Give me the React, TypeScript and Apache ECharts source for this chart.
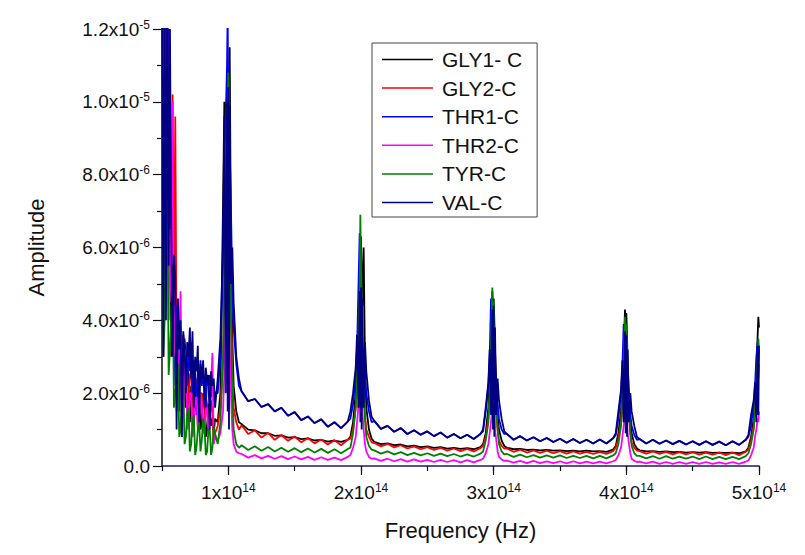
import React, { useEffect, useRef } from "react";
import * as echarts from "echarts";

// Frequency grid, in units of 1e14 Hz
const FREQ = [
  0.5, 0.51, 0.52, 0.53, 0.54, 0.55, 0.56, 0.57, 0.58, 0.59,
  0.6, 0.61, 0.62, 0.63, 0.64, 0.65, 0.66, 0.67, 0.68, 0.69,
  0.7, 0.71, 0.72, 0.73, 0.74, 0.75, 0.76, 0.77, 0.78, 0.79,
  0.8, 0.81, 0.82, 0.83, 0.84, 0.85, 0.86, 0.87, 0.88, 0.89, 0.9,
  0.92, 0.94, 0.96, 0.97, 0.98, 0.99, 0.995, 1.0, 1.005, 1.01, 1.02, 1.03, 1.04, 1.06, 1.08,
  1.1, 1.15, 1.2, 1.25, 1.3, 1.35, 1.4, 1.45, 1.5, 1.55, 1.6, 1.65, 1.7, 1.75, 1.8, 1.85, 1.9,
  1.92, 1.94, 1.96, 1.97, 1.98, 1.99, 1.995, 2.0, 2.005, 2.01, 2.02, 2.03, 2.04, 2.06, 2.08,
  2.1, 2.15, 2.2, 2.25, 2.3, 2.35, 2.4, 2.45, 2.5, 2.55, 2.6, 2.65, 2.7, 2.75, 2.8, 2.85, 2.9,
  2.92, 2.94, 2.96, 2.97, 2.98, 2.99, 2.995, 3.0, 3.005, 3.01, 3.02, 3.03, 3.04, 3.06, 3.08,
  3.1, 3.15, 3.2, 3.25, 3.3, 3.35, 3.4, 3.45, 3.5, 3.55, 3.6, 3.65, 3.7, 3.75, 3.8, 3.85, 3.9,
  3.92, 3.94, 3.96, 3.97, 3.98, 3.99, 3.995, 4.0, 4.005, 4.01, 4.02, 4.03, 4.04, 4.06, 4.08,
  4.1, 4.15, 4.2, 4.25, 4.3, 4.35, 4.4, 4.45, 4.5, 4.55, 4.6, 4.65, 4.7, 4.75, 4.8, 4.85, 4.9,
  4.92, 4.94, 4.96, 4.97, 4.98, 4.99, 4.995, 5.0,
];

// Amplitudes, in units of 1e-6
const GLY1_C = [
  13, 10, 9, 12.5, 6, 9.5, 7.5, 3.0, 5.5, 3.5,
  4.5, 2.0, 3.8, 2.2, 3.2, 1.4, 2.6, 2.0, 1.6, 2.8,
  2.4, 1.2, 2.2, 1.2, 2.0, 1.6, 1.5, 2.4, 2.2, 1.0,
  1.2, 2.0, 1.8, 0.8, 1.0, 1.7, 1.6, 1.1, 1.3, 0.9, 1.3,
  1.2, 2.0, 7.2, 10.0, 9.5, 10.2, 8.0, 9.0, 10.5, 11.5, 6.0, 3.5, 2.2, 1.5, 1.2,
  1.15, 1.0, 0.98, 0.9, 0.9, 0.83, 0.84, 0.78, 0.79, 0.74, 0.76, 0.7, 0.72, 0.67, 0.7, 0.66, 0.72,
  0.8, 1.2, 2.0, 3.0, 4.0, 5.2, 4.6, 6.3, 5.0, 4.4, 6.0, 2.8, 1.6, 1.0, 0.75,
  0.66, 0.6, 0.62, 0.57, 0.59, 0.54, 0.56, 0.52, 0.54, 0.5, 0.52, 0.48, 0.5, 0.47, 0.49, 0.46, 0.52,
  0.6, 0.9, 1.6, 2.5, 3.6, 4.8, 4.2, 4.6, 4.0, 3.2, 2.2, 1.4, 1.0, 0.7, 0.55,
  0.5, 0.46, 0.47, 0.44, 0.45, 0.43, 0.44, 0.42, 0.43, 0.41, 0.42, 0.4, 0.42, 0.4, 0.41, 0.39, 0.45,
  0.55, 0.9, 1.5, 2.2, 3.2, 4.3, 3.8, 4.2, 3.6, 2.8, 2.0, 1.3, 0.9, 0.6, 0.48,
  0.43, 0.4, 0.41, 0.39, 0.4, 0.38, 0.39, 0.37, 0.38, 0.37, 0.38, 0.36, 0.37, 0.36, 0.37, 0.35, 0.4,
  0.5, 0.8, 1.3, 1.9, 2.6, 3.6, 4.1, 3.8,
];
const GLY2_C = [
  12, 3.0, 6, 11, 13, 4.0, 9.5, 5.0, 10.2, 4.5,
  9.6, 3.0, 4.2, 2.0, 3.0, 3.4, 3.6, 2.2, 2.6, 1.4,
  2.0, 2.5, 2.6, 1.2, 1.6, 2.2, 2.4, 1.0, 1.4, 2.0,
  2.0, 1.2, 1.1, 1.9, 1.7, 1.0, 1.2, 1.8, 1.5, 0.8, 0.9,
  1.1, 1.6, 2.8, 5.0, 7.5, 8.6, 9.5, 7.0, 8.2, 6.5, 4.5, 2.6, 1.6, 1.2, 1.0,
  1.12, 0.88, 0.98, 0.78, 0.91, 0.72, 0.85, 0.69, 0.81, 0.65, 0.77, 0.62, 0.73, 0.59, 0.71, 0.57, 0.72,
  0.75, 1.0, 1.6, 2.2, 3.0, 4.0, 3.4, 4.5, 3.5, 2.9, 2.1, 1.4, 1.0, 0.8, 0.65,
  0.63, 0.54, 0.61, 0.51, 0.57, 0.48, 0.54, 0.46, 0.52, 0.44, 0.5, 0.42, 0.48, 0.41, 0.47, 0.4, 0.49,
  0.55, 0.8, 1.3, 1.8, 2.5, 3.2, 2.8, 3.5, 2.7, 2.1, 1.5, 1.0, 0.7, 0.55, 0.48,
  0.48, 0.39, 0.45, 0.37, 0.43, 0.36, 0.42, 0.35, 0.41, 0.34, 0.4, 0.34, 0.39, 0.33, 0.39, 0.33, 0.41,
  0.5, 0.75, 1.2, 1.7, 2.3, 3.0, 2.6, 3.2, 2.5, 1.9, 1.4, 0.9, 0.65, 0.5, 0.42,
  0.41, 0.34, 0.4, 0.33, 0.39, 0.32, 0.38, 0.32, 0.38, 0.31, 0.37, 0.31, 0.37, 0.3, 0.37, 0.3, 0.39,
  0.45, 0.7, 1.1, 1.6, 2.1, 2.6, 2.4, 2.8,
];
const THR1_C = [
  13, 12.5, 4.0, 13, 6, 12, 5.5, 4.8, 6.0, 3.8,
  2.2, 4.4, 3.5, 1.5, 3.8, 3.3, 2.4, 3.5, 3.0, 2.2,
  3.2, 2.6, 3.4, 2.0, 2.9, 2.5, 1.4, 2.7, 2.3, 2.9,
  2.2, 2.5, 2.1, 1.6, 2.4, 2.2, 2.5, 1.9, 2.4, 2.1, 2.0,
  2.0, 3.0, 5.5, 8.5, 9.5, 11.0, 12.5, 9.0, 10.5, 8.8, 7.0, 5.0, 3.8, 2.8, 2.2,
  2.05, 1.78, 1.84, 1.62, 1.7, 1.5, 1.6, 1.38, 1.48, 1.26, 1.36, 1.18, 1.28, 1.08, 1.2, 1.04, 1.22,
  1.3, 1.7, 2.5, 3.2, 4.8, 6.4, 5.2, 5.8, 4.0, 3.4, 2.8, 2.4, 2.0, 1.5, 1.2,
  1.24, 1.02, 1.1, 0.94, 1.04, 0.88, 0.98, 0.86, 0.95, 0.82, 0.92, 0.78, 0.88, 0.76, 0.86, 0.74, 0.88,
  0.95, 1.5, 2.2, 3.0, 4.6, 4.2, 4.5, 3.6, 3.4, 2.8, 2.1, 1.7, 1.3, 1.0, 0.88,
  0.88, 0.72, 0.82, 0.7, 0.79, 0.68, 0.77, 0.66, 0.75, 0.64, 0.74, 0.63, 0.72, 0.62, 0.73, 0.62, 0.76,
  0.85, 1.3, 2.0, 2.7, 3.9, 3.5, 3.6, 3.0, 2.9, 2.4, 1.8, 1.4, 1.1, 0.85, 0.72,
  0.74, 0.62, 0.72, 0.61, 0.7, 0.6, 0.69, 0.59, 0.68, 0.58, 0.68, 0.58, 0.67, 0.57, 0.68, 0.58, 0.72,
  0.8, 1.1, 1.7, 2.2, 3.0, 3.4, 2.8, 3.2,
];
const THR2_C = [
  13, 8.0, 12.5, 7.8, 12, 5.0, 6.5, 4.5, 10.0, 3.0,
  4.4, 1.5, 2.0, 3.5, 4.8, 1.0, 1.4, 2.6, 3.2, 1.0,
  1.2, 2.0, 2.0, 0.8, 1.0, 1.8, 1.9, 1.1, 1.3, 2.0,
  1.7, 0.9, 0.9, 1.5, 1.6, 1.0, 1.2, 2.2, 3.1, 0.6, 0.8,
  0.7, 0.9, 1.5, 2.6, 3.8, 5.0, 4.2, 6.0, 4.5, 3.4, 2.0, 1.0, 0.6, 0.4, 0.35,
  0.33, 0.23, 0.3, 0.21, 0.28, 0.2, 0.27, 0.19, 0.26, 0.18, 0.25, 0.17, 0.24, 0.17, 0.23, 0.16, 0.25,
  0.3, 0.5, 0.8, 1.2, 1.6, 2.1, 1.8, 2.5, 1.9, 1.5, 1.0, 0.6, 0.4, 0.25, 0.2,
  0.21, 0.14, 0.2, 0.13, 0.19, 0.12, 0.18, 0.12, 0.17, 0.11, 0.17, 0.11, 0.16, 0.1, 0.16, 0.1, 0.17,
  0.2, 0.35, 0.6, 0.9, 1.2, 1.6, 1.3, 1.9, 1.4, 1.0, 0.7, 0.4, 0.25, 0.18, 0.14,
  0.15, 0.09, 0.14, 0.08, 0.14, 0.08, 0.13, 0.08, 0.13, 0.07, 0.13, 0.07, 0.12, 0.07, 0.12, 0.07, 0.13,
  0.16, 0.3, 0.5, 0.8, 1.1, 1.4, 1.2, 1.7, 1.3, 0.9, 0.6, 0.35, 0.2, 0.14, 0.11,
  0.12, 0.07, 0.12, 0.06, 0.11, 0.06, 0.11, 0.06, 0.11, 0.06, 0.11, 0.06, 0.1, 0.06, 0.11, 0.06, 0.12,
  0.15, 0.3, 0.5, 0.8, 1.0, 1.3, 1.2, 1.5,
];
const TYR_C = [
  12.5, 3.0, 4.0, 9.0, 8.0, 2.5, 3.2, 4.0, 5.5, 1.6,
  2.0, 2.4, 2.8, 0.8, 1.0, 2.0, 2.4, 0.6, 0.8, 1.4,
  1.6, 0.4, 0.6, 1.2, 1.4, 0.3, 0.5, 1.0, 1.2, 0.4,
  0.7, 1.3, 1.1, 0.3, 0.4, 1.0, 1.0, 0.3, 0.5, 1.1, 0.9,
  0.6, 1.2, 3.0, 5.5, 8.0, 10.0, 9.0, 10.8, 8.5, 7.0, 4.0, 2.0, 1.0, 0.6, 0.5,
  0.57, 0.44, 0.54, 0.42, 0.52, 0.4, 0.5, 0.39, 0.49, 0.38, 0.48, 0.37, 0.47, 0.36, 0.46, 0.35, 0.47,
  0.5, 0.9, 1.6, 2.4, 3.5, 4.8, 6.9, 5.5, 4.6, 3.0, 2.0, 1.3, 0.8, 0.55, 0.45,
  0.43, 0.34, 0.4, 0.32, 0.38, 0.3, 0.36, 0.29, 0.35, 0.28, 0.34, 0.27, 0.33, 0.26, 0.32, 0.26, 0.34,
  0.4, 0.7, 1.2, 2.0, 3.0, 4.9, 4.0, 4.5, 3.6, 2.5, 1.6, 1.0, 0.6, 0.4, 0.32,
  0.33, 0.25, 0.31, 0.24, 0.3, 0.23, 0.29, 0.23, 0.29, 0.22, 0.28, 0.22, 0.28, 0.21, 0.28, 0.21, 0.29,
  0.35, 0.6, 1.1, 1.8, 2.8, 4.1, 3.5, 3.9, 3.3, 2.3, 1.5, 0.9, 0.55, 0.35, 0.28,
  0.28, 0.21, 0.27, 0.2, 0.27, 0.2, 0.26, 0.2, 0.26, 0.19, 0.26, 0.19, 0.25, 0.19, 0.25, 0.19, 0.27,
  0.35, 0.6, 1.0, 1.5, 2.2, 3.0, 3.5, 3.2,
];
const VAL_C = [
  14, 3.0, 13.5, 4.0, 14, 5.5, 12.0, 6.5, 3.0, 5.8,
  5.2, 1.0, 4.6, 3.2, 4.0, 0.8, 3.7, 3.3, 2.0, 3.4,
  3.0, 3.8, 2.4, 3.7, 1.6, 3.0, 2.6, 3.3, 1.2, 2.8,
  2.4, 2.9, 1.8, 2.7, 2.3, 2.5, 1.0, 2.6, 2.2, 2.4, 1.6,
  2.4, 3.5, 6.0, 9.6, 2.0, 10.0, 1.5, 10.4, 1.0, 9.9, 5.0, 6.0, 4.5, 3.0, 2.4,
  2.05, 1.78, 1.84, 1.62, 1.7, 1.5, 1.6, 1.38, 1.48, 1.26, 1.36, 1.18, 1.28, 1.08, 1.2, 1.04, 1.22,
  1.5, 2.0, 2.7, 3.6, 1.6, 4.8, 1.2, 4.9, 1.0, 4.6, 1.6, 3.4, 2.6, 1.8, 1.35,
  1.24, 1.02, 1.1, 0.94, 1.04, 0.88, 0.98, 0.86, 0.95, 0.82, 0.92, 0.78, 0.88, 0.76, 0.86, 0.74, 0.88,
  1.0, 1.6, 2.3, 3.2, 1.4, 4.3, 1.0, 4.4, 0.8, 3.8, 1.4, 2.4, 1.8, 1.3, 0.95,
  0.88, 0.72, 0.82, 0.7, 0.79, 0.68, 0.77, 0.66, 0.75, 0.64, 0.74, 0.63, 0.72, 0.62, 0.73, 0.62, 0.76,
  0.9, 1.5, 2.1, 2.9, 1.2, 3.7, 0.9, 3.6, 0.8, 3.2, 1.2, 2.0, 1.5, 1.1, 0.8,
  0.74, 0.62, 0.72, 0.61, 0.7, 0.6, 0.69, 0.59, 0.68, 0.58, 0.68, 0.58, 0.67, 0.57, 0.68, 0.58, 0.72,
  0.85, 1.4, 1.8, 2.3, 1.2, 3.3, 1.4, 3.3,
];

const SERIES_NAMES = ["GLY1- C", "GLY2-C", "THR1-C", "THR2-C", "TYR-C", "VAL-C"];
const SERIES_VALUES = [GLY1_C, GLY2_C, THR1_C, THR2_C, TYR_C, VAL_C];
const COLORS = ["#000000", "#ff0000", "#0000ff", "#ff00ff", "#008000", "#000080"];

const X_MAJOR = [1, 2, 3, 4, 5];
const FONT = "'Liberation Sans', Arial, sans-serif";

export default function App() {
  const ref = useRef<HTMLDivElement>(null);

  useEffect(() => {
    if (!ref.current) return;
    const chart = echarts.init(ref.current, null, { renderer: "svg" });

    const series = SERIES_NAMES.map((name, k) => ({
      name,
      type: "line",
      xAxisIndex: 0,
      yAxisIndex: 0,
      showSymbol: false,
      symbol: "none",
      clip: true,
      data: FREQ.map((f, i) => [f, SERIES_VALUES[k][i]]),
      lineStyle: { color: COLORS[k], width: 1.8 },
      itemStyle: { color: COLORS[k] },
      emphasis: { disabled: true },
    }));

    const supRich = {
      a: { fontSize: 19, fontFamily: FONT, color: "#111", lineHeight: 21 },
      s: { fontSize: 12, fontFamily: FONT, color: "#111", lineHeight: 12, verticalAlign: "top" },
    };

    chart.setOption({
      animation: false,
      backgroundColor: "#ffffff",
      textStyle: { fontFamily: FONT },
      grid: { left: 162, right: 46, top: 29, bottom: 89, containLabel: false },
      legend: {
        orient: "vertical",
        left: 372,
        top: 43,
        icon: "rect",
        itemWidth: 51,
        itemHeight: 1.5,
        itemGap: 7.6,
        padding: [6, 15, 4, 10],
        borderColor: "#444",
        borderWidth: 1,
        backgroundColor: "#ffffff",
        data: SERIES_NAMES,
        textStyle: { fontSize: 21, fontFamily: FONT, color: "#111", lineHeight: 20, padding: [0, 0, 0, 4] },
      },
      xAxis: [
        {
          type: "value",
          min: 0.5,
          max: 5,
          position: "bottom",
          name: "Frequency (Hz)",
          nameLocation: "middle",
          nameGap: 53,
          nameTextStyle: { fontSize: 22, fontFamily: FONT, color: "#111" },
          axisLine: { show: true, onZero: false, lineStyle: { color: "#1a1a6a", width: 1.5 } },
          axisTick: { show: true, inside: false, length: 9, customValues: X_MAJOR, lineStyle: { color: "#111", width: 1.2 } },
          axisLabel: {
            show: true,
            margin: 16,
            customValues: X_MAJOR,
            formatter: (v: number) => `{a|${Math.round(v)}x10}{s|14}`,
            rich: supRich,
          },
          splitLine: { show: false },
        },
        {
          type: "value",
          min: 0.5,
          max: 5,
          interval: 0.5,
          position: "bottom",
          offset: 0,
          axisLine: { show: false },
          axisTick: { show: true, inside: false, length: 5, lineStyle: { color: "#111", width: 1.2 } },
          axisLabel: { show: false },
          splitLine: { show: false },
        },
      ],
      yAxis: {
        type: "value",
        min: 0,
        max: 12,
        interval: 2,
        name: "Amplitude",
        nameLocation: "middle",
        nameGap: 115,
        nameRotate: 90,
        nameTextStyle: { fontSize: 22, fontFamily: FONT, color: "#111" },
        axisLine: { show: true, lineStyle: { color: "#111", width: 1.5 } },
        axisTick: { show: true, inside: false, length: 9, lineStyle: { color: "#111", width: 1.2 } },
        minorTick: { show: true, splitNumber: 2, length: 5, lineStyle: { color: "#111", width: 1.2 } },
        axisLabel: {
          margin: 12,
          formatter: (v: number) => {
            if (v === 0) return "{a|0.0}";
            if (v >= 10) return `{a|${(v / 10).toFixed(1)}x10}{s|-5}`;
            return `{a|${v.toFixed(1)}x10}{s|-6}`;
          },
          rich: supRich,
        },
        splitLine: { show: false },
        minorSplitLine: { show: false },
      },
      series,
    });

    return () => chart.dispose();
  }, []);

  return <div ref={ref} style={{ position: "fixed", left: 0, top: 0, width: 805, height: 555 }} />;
}
